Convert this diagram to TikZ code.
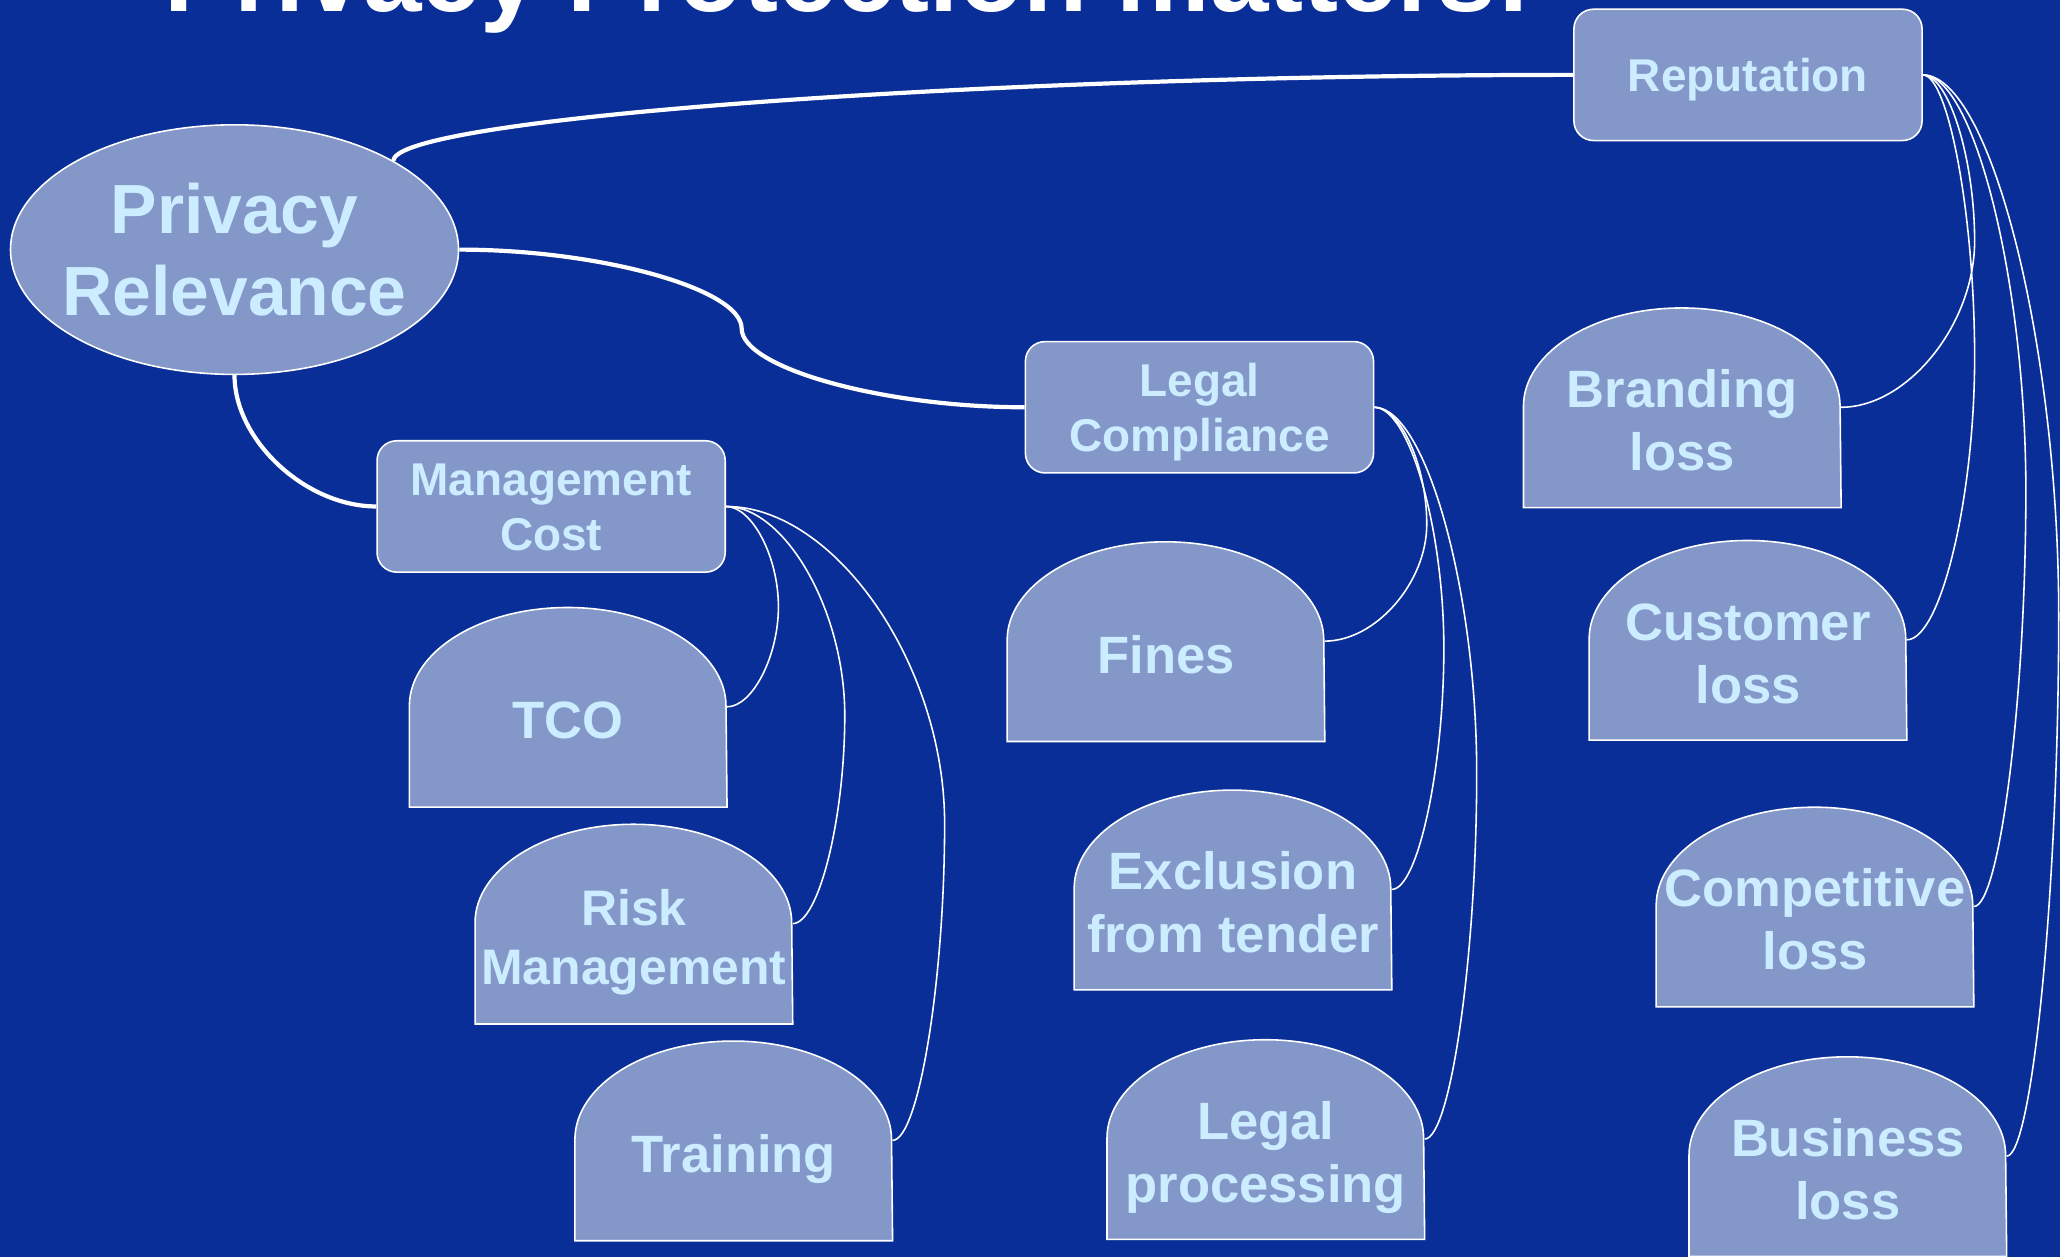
\documentclass[tikz,border=0pt]{standalone}
\usepackage{fontspec}
\setmainfont{Liberation Sans}
\usetikzlibrary{shapes.geometric,backgrounds}
\definecolor{bgblue}{RGB}{10,46,152}
\definecolor{boxfill}{RGB}{132,151,201}
\definecolor{txtc}{RGB}{204,236,255}
\newcommand{\rstrut}{\rule[-0.22em]{0pt}{1.156em}}
\newcommand{\lstrut}{\rule[-0.22em]{0pt}{\dimexpr1.156em+10pt\relax}}
\begin{document}
\begin{tikzpicture}[x=0.5pt,y=-0.5pt,
  hub/.style={ellipse, draw=white, line width=0.6pt, fill=boxfill, text=txtc, align=center,
    minimum width=170.5pt, minimum height=95pt, inner xsep=-6pt, inner ysep=0pt,
    font=\fontsize{26.5pt}{31pt}\selectfont\bfseries,
    execute at begin node=\rstrut, execute at end node=\rstrut},
  branch/.style={rectangle, rounded corners=7.5pt, draw=white, line width=0.6pt, fill=boxfill,
    text=txtc, align=center, minimum width=132.5pt, minimum height=50pt, inner sep=0pt,
    font=\fontsize{17.5pt}{21pt}\selectfont\bfseries,
    execute at begin node=\rstrut, execute at end node=\rstrut},
  leaf/.style={rectangle, minimum width=120.5pt, minimum height=76pt, inner sep=0pt,
    text=txtc, align=center, font=\fontsize{20pt}{24pt}\selectfont\bfseries,
    execute at begin node=\lstrut, execute at end node=\lstrut},
  domeshape/.style={fill=boxfill, draw=white, line width=0.6pt},
  mainlink/.style={draw=white, line width=1.6pt},
  sublink/.style={draw=white, line width=0.6pt},
  headline/.style={text=white, inner sep=0pt, font=\fontsize{40pt}{48pt}\selectfont\bfseries}]

\useasboundingbox (0,0) rectangle (1568,957);
\begin{scope}[on background layer]
  \fill[bgblue] (0,0) rectangle (1568,957);
\end{scope}

\begin{scope}
  \clip (0,0) rectangle (1568,957);
  \node[headline, anchor=base west] (title) at (125,9) {Privacy Protection matters!};
\end{scope}

% main nodes
\node[hub] (pr) at (178.5,190) {\rstrut Privacy\\Relevance};
\node[branch] (rep) at (1330.5,57) {Reputation};
\node[branch] (legal) at (913,310) {\rstrut Legal\\Compliance};
\node[branch] (mgmt) at (419.5,385.5) {\rstrut Management\\Cost};

% leaves
\node[leaf] (tco) at (432.5,538) {TCO};
\node[leaf, font=\fontsize{19pt}{22.5pt}\selectfont\bfseries] (risk) at (482.5,703) {\lstrut Risk\\Management};
\node[leaf] (training) at (558.5,868) {Training};
\node[leaf] (fines) at (887.5,488) {Fines};
\node[leaf] (excl) at (938.5,677) {\lstrut Exclusion\\from tender};
\node[leaf] (legproc) at (963.5,867) {\lstrut Legal\\processing};
\node[leaf] (brand) at (1280.5,310) {\lstrut Branding\\loss};
\node[leaf] (cust) at (1330.5,487) {\lstrut Customer\\loss};
\node[leaf] (comp) at (1381.5,690) {\lstrut Competitive\\loss};
\node[leaf] (bus) at (1406.5,880) {\lstrut Business\\loss};

\begin{scope}[on background layer]
  \foreach \n in {tco,risk,training,fines,excl,legproc,brand,cust,comp,bus}
    \path[domeshape] (\n.south west) -- ([yshift=38.5pt]\n.south west)
      arc[start angle=180, end angle=0, x radius=60.25pt, y radius=37.5pt]
      -- (\n.south east) -- cycle;
\end{scope}

% main connectors
\draw[mainlink] (pr.north east) .. controls (299,89.9) and (748.5,57) .. (rep.west);
\draw[mainlink] (pr.east) .. controls (456.8,190) and (564.5,220) .. (564.5,250)
  .. controls (564.5,280) and (672.3,310) .. (legal.west);
\draw[mainlink] (pr.south) .. controls (178.5,335.3) and (232.8,385.5) .. (mgmt.west);

% management cost branches
\draw[sublink] (mgmt.east) .. controls (572.3,385.5) and (592.5,423.6) .. (592.5,461.8)
  .. controls (592.5,499.9) and (572.5,538) .. (tco.east);
\draw[sublink] (mgmt.east) .. controls (597.5,385.5) and (643,464.9) .. (643,544.3)
  .. controls (643,623.6) and (623,703) .. (risk.east);
\draw[sublink] (mgmt.east) .. controls (635.5,385.5) and (719,506.1) .. (719,626.8)
  .. controls (719,747.4) and (699,868) .. (training.east);

% legal compliance branches
\draw[sublink] (legal.east) .. controls (1066,310) and (1086,354.5) .. (1086,399)
  .. controls (1086,443.5) and (1047,488) .. (fines.east);
\draw[sublink] (legal.east) .. controls (1072.5,310) and (1099,401.8) .. (1099,493.5)
  .. controls (1099,585.3) and (1079,677) .. (excl.east);
\draw[sublink] (legal.east) .. controls (1085,310) and (1124,449.3) .. (1124,588.5)
  .. controls (1124,727.8) and (1104,867) .. (legproc.east);

% reputation branches
\draw[sublink] (rep.east) .. controls (1483,57) and (1503,120.3) .. (1503,183.5)
  .. controls (1503,246.8) and (1452,310) .. (brand.east);
\draw[sublink] (rep.east) .. controls (1483,57) and (1503,164.5) .. (1503,272)
  .. controls (1503,379.5) and (1477,487) .. (cust.east);
\draw[sublink] (rep.east) .. controls (1502.5,57) and (1542,215.3) .. (1542,373.5)
  .. controls (1542,531.8) and (1522,690) .. (comp.east);
\draw[sublink] (rep.east) .. controls (1515,57) and (1567,262.8) .. (1567,468.5)
  .. controls (1567,674.3) and (1547,880) .. (bus.east);
\end{tikzpicture}
\end{document}
